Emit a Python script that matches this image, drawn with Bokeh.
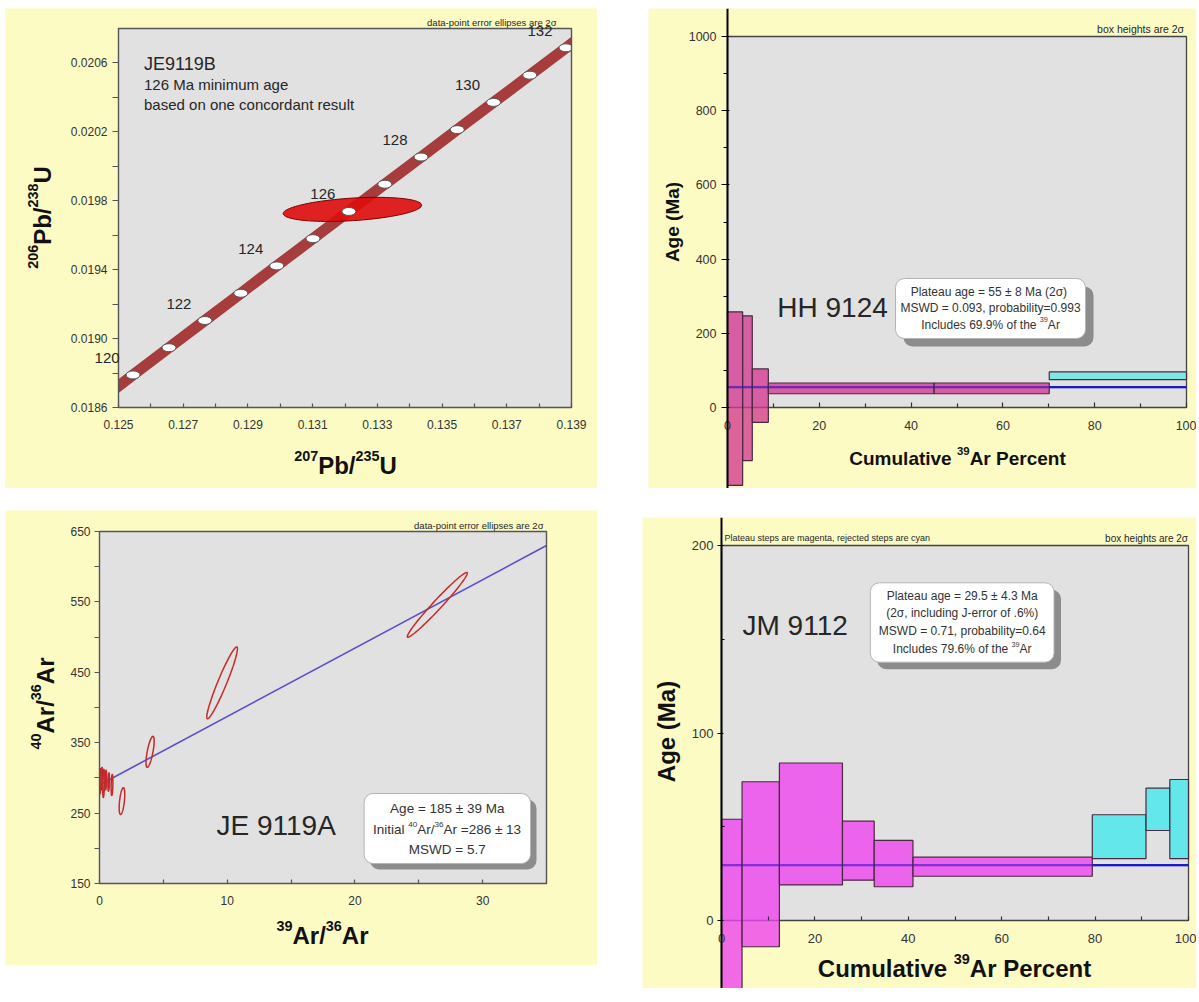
import numpy as np
from bokeh.plotting import figure
from bokeh.models import Range1d, FixedTicker, PrintfTickFormatter, Label, Spacer
from bokeh.layouts import row, column
from bokeh.embed import file_html
from bokeh.resources import INLINE

FONT = "Liberation Sans"
YELLOW = "#fdfbc4"
PLOTGRAY = "#e1e1e1"
FRAMELINE = "#555555"
TXT = "#262626"

# ---------------- Panel 1 : U-Pb concordia (JE9119B) ----------------
conc_age = [120, 121, 122, 123, 124, 125, 126, 127, 128, 129, 130, 131, 132]
conc_x = [0.12545, 0.12656, 0.12767, 0.12878, 0.12989, 0.13101, 0.13212,
          0.13323, 0.13435, 0.13547, 0.13659, 0.13771, 0.13883]
conc_y = [0.018789, 0.018947, 0.019105, 0.019263, 0.019422, 0.019580, 0.019738,
          0.019896, 0.020054, 0.020213, 0.020371, 0.020529, 0.020688]
band_x = [0.12490] + conc_x + [0.13930]
band_y = [0.018710] + conc_y + [0.020755]
grain_x, grain_sx = 0.13223, 0.00214
grain_y, grain_sy = 0.019750, 0.000070
grain_rho = 0.35
p1_box = (0.125, 0.139, 0.0186, 0.0208)
p1_xticks = [0.125, 0.127, 0.129, 0.131, 0.133, 0.135, 0.137, 0.139]
p1_xminor = [0.126, 0.128, 0.130, 0.132, 0.134, 0.136, 0.138]
p1_yticks = [0.0186, 0.0190, 0.0194, 0.0198, 0.0202, 0.0206]
p1_yminor = [0.0188, 0.0192, 0.0196, 0.0200, 0.0204]

# ---------------- Panel 2 : HH 9124 age spectrum ----------------
hh_x0 = [0.0, 3.3, 5.4, 8.9, 45.0, 70.1]
hh_x1 = [3.3, 5.4, 8.9, 45.0, 70.1, 100.0]
hh_lo = [-210, -143, -40, 37, 37, 75]
hh_hi = [258, 247, 104, 66, 66, 96]
hh_plateau = [True, True, True, True, True, False]
hh_age = 55
p2_box = (0, 100, 0, 1000)
p2_xticks = [0, 20, 40, 60, 80, 100]
p2_xminor = [10, 30, 50, 70, 90]
p2_yticks = [0, 200, 400, 600, 800, 1000]
p2_yminor = [100, 300, 500, 700, 900]

# ---------------- Panel 3 : isochron JE 9119A ----------------
iso_x = [26.45, 9.6, 3.96, 1.76, 0.05, 0.18, 0.32, 0.50, 0.72, 0.98]
iso_sx = [2.35, 1.2, 0.32, 0.22, 0.07, 0.07, 0.07, 0.06, 0.06, 0.07]
iso_y = [545.8, 435, 337, 267, 295, 299, 292, 297, 294, 290]
iso_sy = [46, 51, 22, 19, 18, 16, 20, 14, 13, 15]
iso_rho = [0.98, 0.95, 0.7, 0.5, 0.3, 0.3, 0.3, 0.3, 0.3, 0.3]
fit_x = [0, 35]
fit_y = [290, 630]
p3_box = (0, 35, 150, 650)
p3_xticks = [0, 10, 20, 30]
p3_xminor = [5, 15, 25]
p3_yticks = [150, 250, 350, 450, 550, 650]
p3_yminor = [200, 300, 400, 500, 600]

# ---------------- Panel 4 : JM 9112 age spectrum ----------------
jm_x0 = [0.0, 4.4, 12.4, 25.9, 32.7, 41.0, 79.4, 90.9, 96.0]
jm_x1 = [4.4, 12.4, 25.9, 32.7, 41.0, 79.4, 90.9, 96.0, 100.0]
jm_lo = [-48, -14, 19, 21.5, 18, 23.6, 33, 48, 33]
jm_hi = [54, 74, 84, 53, 42.7, 33.8, 56.4, 70.6, 75.2]
jm_plateau = [True, True, True, True, True, True, False, False, False]
jm_age = 29.5
p4_box = (0, 100, 0, 200)
p4_xticks = [0, 20, 40, 60, 80, 100]
p4_xminor = [10, 30, 50, 70, 90]
p4_yticks = [0, 100, 200]
p4_yminor = [50, 150]

# ---------------- text metrics (Arial / Liberation Sans, per em) ----------------
W_REG = {' ': .278, '%': .889, '(': .333, ')': .333, ',': .278, '-': .333, '.': .278, '/': .278,
         '=': .584, '±': .584, 'A': .667, 'I': .278, 'M': .833, 'P': .667, 'S': .667, 'U': .722,
         'W': .944, 'D': .722, 'a': .556, 'b': .556, 'c': .5, 'd': .556, 'e': .556, 'f': .278,
         'g': .556, 'h': .556, 'i': .222, 'l': .222, 'm': .833, 'n': .556, 'o': .556, 'p': .556,
         'r': .333, 's': .5, 't': .278, 'u': .556, 'v': .5, 'y': .5}
W_BOLD = {' ': .278, '(': .333, ')': .333, '/': .278, 'A': .722, 'C': .722, 'M': .833, 'P': .667,
          'U': .722, 'a': .556, 'b': .611, 'c': .556, 'e': .556, 'g': .611, 'i': .278, 'l': .278,
          'm': .889, 'n': .611, 'r': .389, 't': .333, 'u': .611, 'v': .556}


def text_w(s, size, bold):
    tab = W_BOLD if bold else W_REG
    return sum(tab.get(c, .556) for c in s) * size


class Geo:
    """Figure placement on the page (pixels), its frame, and two pixel<->value anchors per axis."""
    def __init__(self, fx, fy, w, h, xa, ya):
        self.fx, self.fy, self.w, self.h = fx, fy, w, h
        L, R, T, B = fx, fx + w, fy, fy + h
        self.L, self.R, self.T, self.B = L, R, T, B
        kx = (xa[3] - xa[1]) / (xa[2] - xa[0])
        self.xr = (xa[1] + (L - xa[0]) * kx, xa[1] + (R - xa[0]) * kx)
        ky = (ya[3] - ya[1]) / (ya[0] - ya[2])
        self.yr = (ya[1] - (B - ya[0]) * ky, ya[1] + (ya[0] - T) * ky)

    def x(self, px):
        return self.xr[0] + (px - self.L) / (self.R - self.L) * (self.xr[1] - self.xr[0])

    def y(self, py):
        return self.yr[0] + (self.B - py) / (self.B - self.T) * (self.yr[1] - self.yr[0])

    def px(self, x):
        return self.L + (x - self.xr[0]) / (self.xr[1] - self.xr[0]) * (self.R - self.L)

    def py(self, y):
        return self.B - (y - self.yr[0]) / (self.yr[1] - self.yr[0]) * (self.B - self.T)


def make_fig(g):
    p = figure(width=g.w, height=g.h, x_range=Range1d(*g.xr), y_range=Range1d(*g.yr),
               output_backend="svg", toolbar_location=None, title=None,
               min_border_left=0, min_border_right=0, min_border_top=0, min_border_bottom=0)
    p.border_fill_color = YELLOW
    p.background_fill_color = YELLOW
    p.outline_line_color = None
    p.xgrid.visible = False
    p.ygrid.visible = False
    return p


def style_axis(ax, ticks, minor, tick_px, color, lw, t_in, t_out, m_in, m_out, standoff,
               fmt=None, tick_color=FRAMELINE):
    ax.ticker = FixedTicker(ticks=ticks, minor_ticks=minor)
    if fmt:
        ax.formatter = PrintfTickFormatter(format=fmt)
    ax.major_label_text_font = FONT
    ax.major_label_text_font_size = f"{tick_px}px"
    ax.major_label_text_color = "#333333"
    ax.major_label_standoff = standoff
    ax.axis_line_color = color
    ax.axis_line_width = lw
    ax.major_tick_line_color = tick_color
    ax.minor_tick_line_color = tick_color
    ax.major_tick_line_width = 1.2
    ax.minor_tick_line_width = 1.2
    ax.major_tick_in, ax.major_tick_out = t_in, t_out
    ax.minor_tick_in, ax.minor_tick_out = m_in, m_out


def add_text(p, g, px, py, text, size, align="left", baseline="middle", color=TXT,
             bold=False, angle=0.0):
    p.add_layout(Label(x=g.x(px), y=g.y(py), text=text, text_font=FONT,
                       text_font_size=f"{size}px", text_align=align, angle=angle,
                       text_baseline=baseline, text_color=color,
                       text_font_style="bold" if bold else "normal"))


def rich(p, g, cx, cy, segs, size, bold=False, vertical=False, color=TXT):
    """Text with superscripts, centred at page pixel (cx, cy); segs = [(text, is_sup)]."""
    sup = 0.6 * size
    widths = [text_w(t, sup if s else size, bold) for t, s in segs]
    total = sum(widths)
    rise = 0.40 * size
    shift = 0.05 * size
    if not vertical:
        x = cx - total / 2
        base = cy + shift
        for (t, s), w in zip(segs, widths):
            add_text(p, g, x, base - (rise if s else 0), t, sup if s else size,
                     baseline="alphabetic", color=color, bold=bold)
            x += w
    else:
        y = cy + total / 2
        base = cx + shift
        for (t, s), w in zip(segs, widths):
            add_text(p, g, base - (rise if s else 0), y, t, sup if s else size,
                     baseline="alphabetic", color=color, bold=bold, angle=np.pi / 2)
            y -= w


def add_box(p, g, l, r, t, b, shadow):
    p.quad(left=[g.x(l + shadow)], right=[g.x(r + shadow)], top=[g.y(t + shadow)],
           bottom=[g.y(b + shadow)], fill_color="#8c8c8c", line_color=None, border_radius=9)
    p.quad(left=[g.x(l)], right=[g.x(r)], top=[g.y(t)], bottom=[g.y(b)],
           fill_color="white", line_color="#b4b4b4", line_width=1, border_radius=9)


def masks(p, g, box):
    x0, x1, y0, y1 = box
    X0, X1 = g.xr
    Y0, Y1 = g.yr
    p.quad(left=[X0, x1, x0, x0], right=[x0, X1, x1, x1], bottom=[Y0, Y0, Y0, y1],
           top=[Y1, Y1, y0, Y1], fill_color=YELLOW, line_color=None)


def ellipse_pts(x, sx, y, sy, rho, n=90):
    t = np.linspace(0, 2 * np.pi, n)
    return x + sx * np.cos(t), y + sy * (rho * np.cos(t) + np.sqrt(1 - rho ** 2) * np.sin(t))


def spectrum(p, box, x0s, x1s, lo, hi, plateau, age, cplat, crej, alpha):
    x0, x1, y0, y1 = box
    p.quad(left=[x0], right=[x1], bottom=[y0], top=[y1], fill_color=PLOTGRAY,
           line_color="#444444", line_width=1.3)
    p.line([x0, x1], [age, age], line_color="#1c1cc8", line_width=2.2)
    p.quad(left=x0s, right=x1s, bottom=lo, top=hi,
           fill_color=[cplat if f else crej for f in plateau], fill_alpha=alpha,
           line_color="#4a2a40", line_width=1.2)
    p.line([x0, x1], [age, age], line_color="#1c1cc8", line_width=2.2, line_alpha=0.4)


# ======================= Panel 1 =======================
g1 = Geo(5, 8, 592, 480, (118, 0.125, 571, 0.139), (407, 0.0186, 28, 0.0208))
p1 = make_fig(g1)
x0, x1, y0, y1 = p1_box
p1.quad(left=[x0], right=[x1], bottom=[y0], top=[y1], fill_color=PLOTGRAY, line_color=None)
p1.line(band_x, band_y, line_width=11, line_color="#a63c3c")
ex, ey = ellipse_pts(grain_x, grain_sx, grain_y, grain_sy, grain_rho)
p1.patch(ex, ey, fill_color="#e00c0c", fill_alpha=0.9, line_color="#7a0000", line_width=1)
p1.ellipse(x=conc_x, y=conc_y, width=14, height=8, width_units="screen",
           height_units="screen", fill_color="white", line_color="#555555", line_width=1)
masks(p1, g1, p1_box)
p1.quad(left=[x0], right=[x1], bottom=[y0], top=[y1], fill_color=None,
        line_color=FRAMELINE, line_width=1.4)
p1.xaxis.fixed_location = y0
p1.yaxis.fixed_location = x0
style_axis(p1.xaxis[0], p1_xticks, p1_xminor, 12, None, 1, 4, 0, 4, 0, 12, fmt="%.3f")
style_axis(p1.yaxis[0], p1_yticks, p1_yminor, 12, None, 1, 0, 6, 0, 6, 5, fmt="%.4f")
for a, cx, cy in zip(conc_age, conc_x, conc_y):
    if a % 2 == 0:
        add_text(p1, g1, g1.px(cx) - 26, g1.py(cy) - 17, str(a), 15, align="center")
add_text(p1, g1, 556, 27, "data-point error ellipses are 2σ", 9.5, align="right",
         baseline="bottom")
add_text(p1, g1, 143.5, 63, "JE9119B", 18)
add_text(p1, g1, 143.5, 83.5, "126 Ma minimum age", 15)
add_text(p1, g1, 143.5, 103.5, "based on one concordant result", 15)
rich(p1, g1, 345, 464, [("207", True), ("Pb/", False), ("235", True), ("U", False)], 24,
     bold=True, color="#111111")
rich(p1, g1, 41, 217, [("206", True), ("Pb/", False), ("238", True), ("U", False)], 24,
     bold=True, vertical=True, color="#111111")

# ======================= Panel 2 =======================
g2 = Geo(648, 8, 548, 480, (727, 0, 1186, 100), (407, 0, 36, 1000))
p2 = make_fig(g2)
spectrum(p2, p2_box, hh_x0, hh_x1, hh_lo, hh_hi, hh_plateau, hh_age, "#d4388f", "#64e8e8", 0.78)
p2.xaxis.fixed_location = p2_box[2]
p2.yaxis.fixed_location = p2_box[0]
style_axis(p2.xaxis[0], p2_xticks, p2_xminor, 12.5, None, 1, 5, 0, 4, 0, 13, tick_color="#333333")
style_axis(p2.yaxis[0], p2_yticks, p2_yminor, 12.5, "#000000", 2, 2, 6, 0, 4, 5,
           tick_color="#000000")
add_text(p2, g2, 1183.6, 34, "box heights are 2σ", 10.5, align="right", baseline="bottom")
add_text(p2, g2, 776.8, 307, "HH 9124", 28)
add_box(p2, g2, 895, 1085, 278, 338, 8)
add_text(p2, g2, 990, 291, "Plateau age = 55 ± 8 Ma  (2σ)", 12, align="center", color="#333333")
add_text(p2, g2, 990, 307, "MSWD = 0.093, probability=0.993", 12, align="center", color="#333333")
rich(p2, g2, 990, 323.5, [("Includes 69.9% of the ", False), ("39", True), ("Ar", False)], 12,
     color="#333333")
rich(p2, g2, 957, 457, [("Cumulative ", False), ("39", True), ("Ar Percent", False)], 19,
     bold=True, color="#111111")
rich(p2, g2, 671, 221.5, [("Age (Ma)", False)], 19, bold=True, vertical=True, color="#111111")

# ======================= Panel 3 =======================
g3 = Geo(5, 510, 592, 455, (99, 0, 546, 35), (883, 150, 531, 650))
p3 = make_fig(g3)
x0, x1, y0, y1 = p3_box
p3.quad(left=[x0], right=[x1], bottom=[y0], top=[y1], fill_color=PLOTGRAY, line_color=None)
p3.line(fit_x, fit_y, line_color="#5a4fc8", line_width=1.6)
for xx, sx, yy, sy, rr in zip(iso_x, iso_sx, iso_y, iso_sy, iso_rho):
    ex, ey = ellipse_pts(xx, sx, yy, sy, rr)
    p3.patch(ex, ey, fill_color=None, line_color="#c42b2b", line_width=1.5)
masks(p3, g3, p3_box)
p3.quad(left=[x0], right=[x1], bottom=[y0], top=[y1], fill_color=None,
        line_color=FRAMELINE, line_width=1.4)
p3.xaxis.fixed_location = y0
p3.yaxis.fixed_location = x0
style_axis(p3.xaxis[0], p3_xticks, p3_xminor, 12, None, 1, 4, 0, 4, 0, 12)
style_axis(p3.yaxis[0], p3_yticks, p3_yminor, 12, None, 1, 0, 5, 0, 5, 4)
add_text(p3, g3, 543, 530, "data-point error ellipses are 2σ", 9.5, align="right",
         baseline="bottom")
add_text(p3, g3, 216, 825, "JE 9119A", 28)
add_box(p3, g3, 363.6, 530, 793, 863, 6)
add_text(p3, g3, 446.8, 808, "Age = 185 ± 39 Ma", 13.5, align="center", color="#333333")
rich(p3, g3, 446.8, 828.5, [("Initial ", False), ("40", True), ("Ar/", False), ("36", True),
                            ("Ar =286 ± 13", False)], 13.5, color="#333333")
add_text(p3, g3, 446.8, 849, "MSWD = 5.7", 13.5, align="center", color="#333333")
rich(p3, g3, 322, 934, [("39", True), ("Ar/", False), ("36", True), ("Ar", False)], 24,
     bold=True, color="#111111")
rich(p3, g3, 44, 703, [("40", True), ("Ar/", False), ("36", True), ("Ar", False)], 24,
     bold=True, vertical=True, color="#111111")

# ======================= Panel 4 =======================
g4 = Geo(642, 517, 554, 471, (721, 0, 1188, 100), (920, 0, 545, 200))
p4 = make_fig(g4)
spectrum(p4, p4_box, jm_x0, jm_x1, jm_lo, jm_hi, jm_plateau, jm_age, "#ee45ee", "#45e8ee", 0.8)
p4.xaxis.fixed_location = p4_box[2]
p4.yaxis.fixed_location = p4_box[0]
style_axis(p4.xaxis[0], p4_xticks, p4_xminor, 13, None, 1, 4, 0, 4, 0, 13, tick_color="#333333")
style_axis(p4.yaxis[0], p4_yticks, p4_yminor, 13, "#000000", 2, 2, 4, 3, 0, 4,
           tick_color="#000000")
add_text(p4, g4, 724, 542, "Plateau steps are magenta, rejected steps are cyan", 9,
         baseline="bottom")
add_text(p4, g4, 1187.5, 543, "box heights are 2σ", 10, align="right", baseline="bottom")
add_text(p4, g4, 742, 625, "JM 9112", 28)
add_box(p4, g4, 869.8, 1053.5, 582.3, 661.7, 7)
add_text(p4, g4, 961.7, 595, "Plateau age = 29.5 ± 4.3 Ma", 12, align="center", color="#333333")
add_text(p4, g4, 961.7, 612.7, "(2σ, including J-error of .6%)", 12, align="center",
         color="#333333")
add_text(p4, g4, 961.7, 630.7, "MSWD = 0.71, probability=0.64", 12, align="center",
         color="#333333")
rich(p4, g4, 961.7, 648.3, [("Includes 79.6% of the ", False), ("39", True), ("Ar", False)], 12,
     color="#333333")
rich(p4, g4, 954, 967, [("Cumulative ", False), ("39", True), ("Ar Percent", False)], 24,
     bold=True, color="#111111")
rich(p4, g4, 665, 731, [("Age (Ma)", False)], 24, bold=True, vertical=True, color="#111111")


def place(p, dy=0):
    kids = [Spacer(width=p.width, height=dy)] if dy else []
    return column(kids + [p])


layout = column(
    Spacer(width=10, height=8),
    row(Spacer(width=5, height=10), place(p1), Spacer(width=51, height=10), place(p2)),
    Spacer(width=10, height=22),
    row(Spacer(width=5, height=10), place(p3), Spacer(width=45, height=10), place(p4, 7)),
)

open("out.html", "w").write(file_html(layout, INLINE))
